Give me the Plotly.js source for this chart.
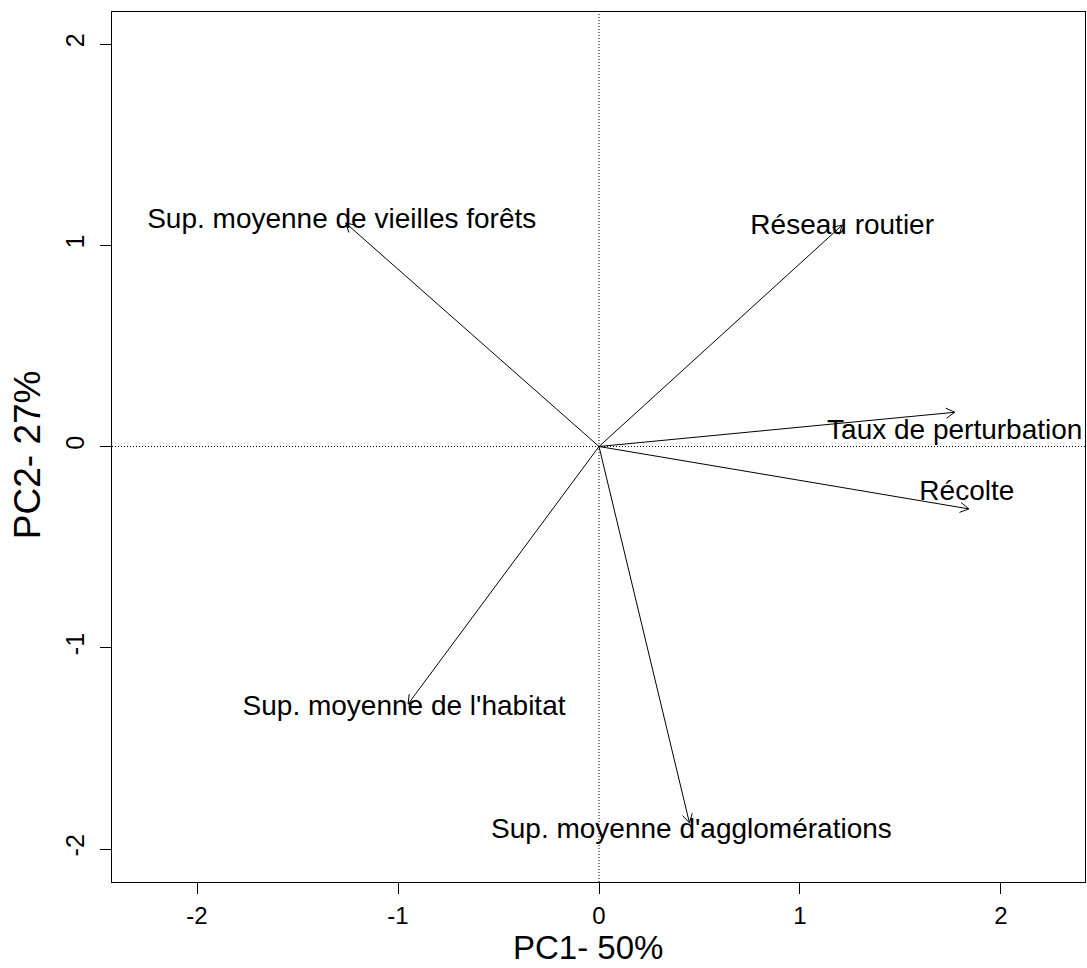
<!DOCTYPE html>
<html>
<head>
<meta charset="utf-8">
<script src="https://cdn.plot.ly/plotly-3.0.1.min.js"></script>
<style>html,body{margin:0;padding:0;background:#fff;}#chart{width:1087px;height:968px;}</style>
</head>
<body>
<div id="chart"></div>
<script>
// Variable names (loadings)
const variables = [
  "Sup. moyenne de vieilles forêts",
  "Réseau routier",
  "Taux de perturbation",
  "Récolte",
  "Sup. moyenne de l'habitat",
  "Sup. moyenne d'agglomérations"
];
// Arrow tips (PC1, PC2)
const arrowPC1 = [-1.26, 1.21, 1.77, 1.84, -0.95, 0.45];
const arrowPC2 = [1.11, 1.10, 0.17, -0.31, -1.28, -1.87];
// Label positions (PC1, PC2)
const labelPC1 = [-1.28, 1.21, 1.77, 1.83, -0.97, 0.46];
const labelPC2 = [1.12, 1.09, 0.07, -0.23, -1.30, -1.91];
// Axis ticks and titles
const tickVals = [-2, -1, 0, 1, 2];
const tickText = ["-2", "-1", "0", "1", "2"];
const xTitle = "PC1- 50%";
const yTitle = "PC2- 27%";

const W = 1087, H = 968;
const margin = {l: 112, r: 2, t: 12, b: 86};
const xRange = [-2.423, 2.418];
const yRange = [-2.164, 2.159];
const pxX = (W - margin.l - margin.r) / (xRange[1] - xRange[0]);
const pxY = (H - margin.t - margin.b) / (yRange[1] - yRange[0]);

// Build arrow shafts and open heads
const shaftX = [], shaftY = [], headX = [], headY = [];
const headLen = 10, headAng = Math.PI / 6;
for (let i = 0; i < variables.length; i++) {
  const tx = arrowPC1[i], ty = arrowPC2[i];
  shaftX.push(0, tx, null); shaftY.push(0, ty, null);
  const dx = tx * pxX, dy = ty * pxY;
  const a = Math.atan2(dy, dx);
  const w1 = a + Math.PI - headAng, w2 = a + Math.PI + headAng;
  headX.push(tx + headLen * Math.cos(w1) / pxX, tx, tx + headLen * Math.cos(w2) / pxX, null);
  headY.push(ty + headLen * Math.sin(w1) / pxY, ty, ty + headLen * Math.sin(w2) / pxY, null);
}

const FONT = 'Liberation Sans, Arial, sans-serif';
const traces = [
  {x: shaftX, y: shaftY, mode: 'lines', line: {color: '#000', width: 1}, hoverinfo: 'skip', showlegend: false},
  {x: headX, y: headY, mode: 'lines', line: {color: '#000', width: 1}, hoverinfo: 'skip', showlegend: false},
  {x: labelPC1, y: labelPC2, text: variables, mode: 'text', textposition: 'middle center',
   textfont: {family: FONT, size: 28, color: '#000'}, hoverinfo: 'skip', showlegend: false}
];

const axisCommon = {
  showgrid: false, zeroline: false, showline: true, mirror: true,
  linecolor: '#000', linewidth: 1, ticks: 'outside', ticklen: 11, tickcolor: '#000', tickwidth: 1,
  tickvals: tickVals, ticktext: tickText,
  tickfont: {family: FONT, size: 24, color: '#000'}
};

const layout = {
  width: W, height: H, margin: margin,
  paper_bgcolor: '#fff', plot_bgcolor: '#fff',
  font: {family: FONT, color: '#000'},
  xaxis: Object.assign({}, axisCommon, {range: xRange, ticklabelstandoff: 1}),
  yaxis: Object.assign({}, axisCommon, {range: yRange, tickangle: -90, ticklabelstandoff: 6,
    tickfont: {family: FONT, size: 25, color: '#000'}}),
  annotations: [
    {text: xTitle, xref: 'paper', yref: 'paper', x: 0.4887, y: -0.0982, xanchor: 'center', yanchor: 'bottom',
     showarrow: false, borderpad: 0, font: {family: FONT, size: 33, color: '#000'}},
    {text: yTitle, xref: 'paper', yref: 'paper', x: -0.087, y: 0.491, xanchor: 'center', yanchor: 'middle',
     textangle: -90, showarrow: false, font: {family: FONT, size: 37, color: '#000'}}
  ],
  shapes: [
    {type: 'line', xref: 'x', yref: 'paper', x0: 0, x1: 0, y0: 0, y1: 1, line: {color: '#000', width: 1, dash: '1px,2px'}},
    {type: 'line', xref: 'paper', yref: 'y', x0: 0, x1: 1, y0: 0, y1: 0, line: {color: '#000', width: 1, dash: '1px,2px'}}
  ]
};

Plotly.newPlot('chart', traces, layout, {staticPlot: true, displayModeBar: false});
</script>
</body>
</html>
